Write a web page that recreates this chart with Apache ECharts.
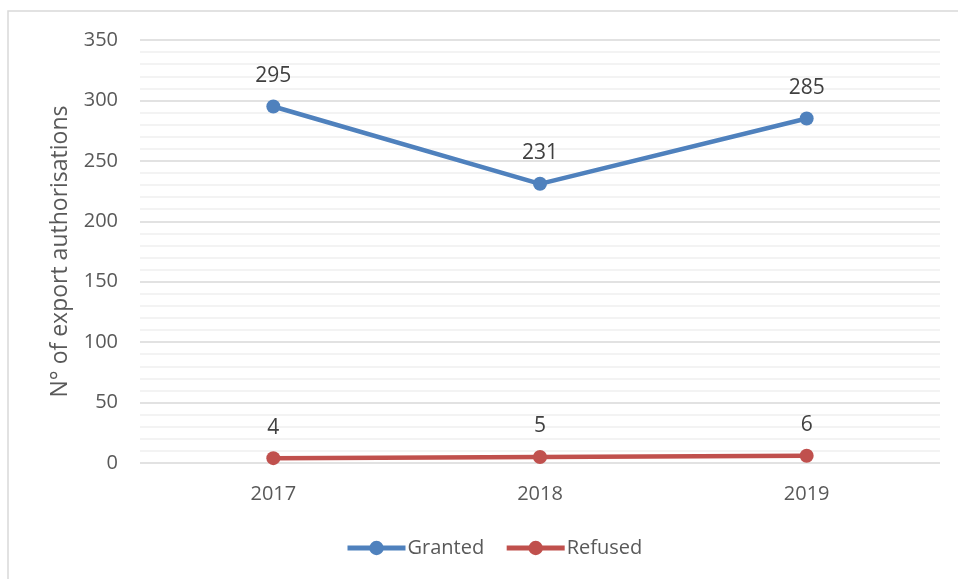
<!DOCTYPE html>
<html><head><meta charset="utf-8">
<script src="https://cdn.jsdelivr.net/npm/echarts@6/dist/echarts.min.js"></script>
<style>html,body{margin:0;padding:0;background:#fff}#c{width:958px;height:579px}</style>
</head><body><div id="c"></div>
<script>
const categories = ['2017', '2018', '2019'];
const granted = [295, 231, 285];
const refused = [4, 5, 6];
const yTicks = [0, 50, 100, 150, 200, 250, 300, 350];

const font = 'Open Sans';
const chart = echarts.init(document.getElementById('c'), null, {renderer: 'canvas'});
chart.setOption({
  backgroundColor: '#fff',
  animation: false,
  graphic: [{type: 'rect', shape: {x: 8, y: 11, width: 1000, height: 620},
    style: {fill: 'none', stroke: '#d9d9d9', lineWidth: 1.5}, silent: true}],
  grid: {left: 140, right: 18, top: 40, bottom: 116},
  legend: {
    left: 340, top: 533, itemWidth: 58, itemHeight: 18, itemGap: 20,
    lineStyle: {width: 5},
    textStyle: {fontFamily: font, fontSize: 20, color: '#595959', padding: [0, 0, 0, -3]},
    data: ['Granted', 'Refused']
  },
  xAxis: {
    type: 'category', data: categories, boundaryGap: true,
    axisLine: {show: false}, axisTick: {show: false},
    axisLabel: {fontFamily: font, fontSize: 20, color: '#595959', margin: 21}
  },
  yAxis: {
    type: 'value', min: yTicks[0], max: yTicks[yTicks.length - 1], interval: 50,
    name: 'N° of export authorisations', nameLocation: 'middle', nameGap: 68,
    nameTextStyle: {fontFamily: font, fontSize: 23, color: '#595959'},
    axisLine: {show: false}, axisTick: {show: false},
    axisLabel: {fontFamily: font, fontSize: 20, color: '#595959', margin: 22},
    splitLine: {lineStyle: {color: '#d9d9d9', width: 1.5}},
    minorTick: {show: false, splitNumber: 5},
    minorSplitLine: {show: true, lineStyle: {color: '#efefef', width: 1.5}}
  },
  series: [
    {name: 'Granted', type: 'line', data: granted, symbol: 'circle', symbolSize: 14,
     lineStyle: {color: '#4f81bd', width: 4.5}, itemStyle: {color: '#4f81bd'},
     label: {show: true, position: 'top', distance: 13, fontFamily: font, fontSize: 21, color: '#404040'}},
    {name: 'Refused', type: 'line', data: refused, symbol: 'circle', symbolSize: 14,
     lineStyle: {color: '#c0504d', width: 4.5}, itemStyle: {color: '#c0504d'},
     label: {show: true, position: 'top', distance: 13, fontFamily: font, fontSize: 21, color: '#404040'}}
  ]
});
</script></body></html>
